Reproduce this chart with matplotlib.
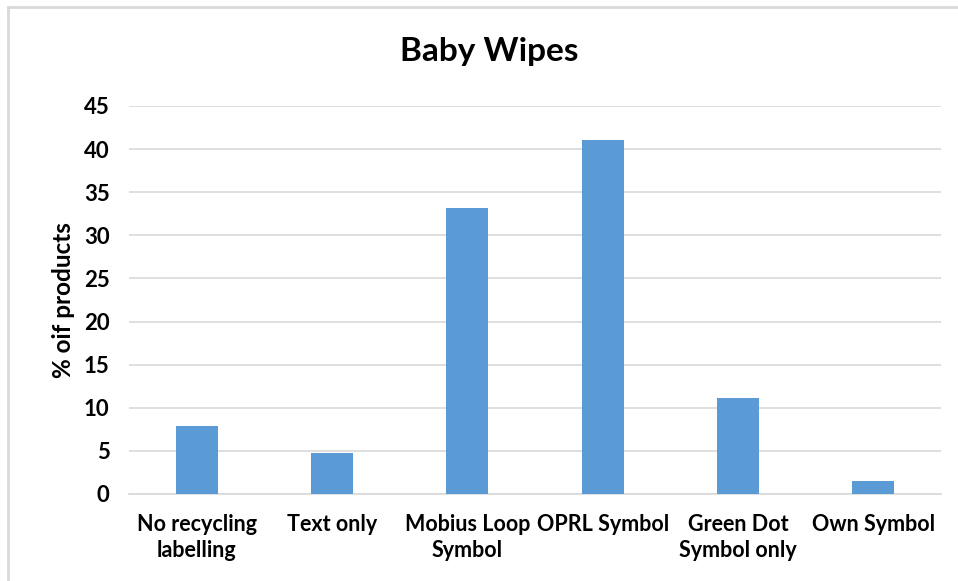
import matplotlib
matplotlib.use("Agg")
import matplotlib.pyplot as plt
from matplotlib.lines import Line2D

categories = ["No recycling\nlabelling", "Text only", "Mobius Loop\nSymbol",
              "OPRL Symbol", "Green Dot\nSymbol only", "Own Symbol"]
values = [7.9, 4.8, 33.2, 41.1, 11.1, 1.5]
yticks = [0, 5, 10, 15, 20, 25, 30, 35, 40, 45]

plt.rcParams['font.family'] = ['Lato', 'DejaVu Sans']

fig = plt.figure(figsize=(9.58, 5.81), dpi=100)
ax = fig.add_axes([129/958, 1-494/581, (941-129)/958, (494-106)/581])

x = list(range(len(categories)))
ax.bar(x, values, width=0.31, color="#5B9BD5", zorder=3)
ax.set_xlim(-0.5, len(categories)-0.5)
ax.set_ylim(0, 45)
ax.set_yticks(yticks)
ax.set_yticklabels([str(t) for t in yticks], fontsize=16, fontweight='bold')
ax.set_xticks(x)
ax.set_xticklabels(categories, fontsize=15.5, fontweight='bold', linespacing=1.3)
ax.tick_params(axis='both', length=0)
ax.tick_params(axis='y', pad=14)
ax.tick_params(axis='x', pad=14.5)
ax.grid(axis='y', color='#d9d9d9', linewidth=1.2, zorder=0)
for s in ['top', 'right', 'left']:
    ax.spines[s].set_visible(False)
ax.spines['bottom'].set_color('#d9d9d9')
ax.spines['bottom'].set_linewidth(1.2)

ax.set_ylabel("% oif products", fontsize=17.5, fontweight='bold', labelpad=6)
fig.text(489/958, 1-52/581, "Baby Wipes", ha='center', va='center',
         fontsize=24, fontweight='bold')

# chart area border (left and top)
fig.add_artist(Line2D([8/958, 8/958], [0, 1-7/581], transform=fig.transFigure,
                      color='#d9d9d9', linewidth=2))
fig.add_artist(Line2D([8/958, 1], [1-7/581, 1-7/581], transform=fig.transFigure,
                      color='#d9d9d9', linewidth=2))

fig.savefig("out.png", dpi=100)
